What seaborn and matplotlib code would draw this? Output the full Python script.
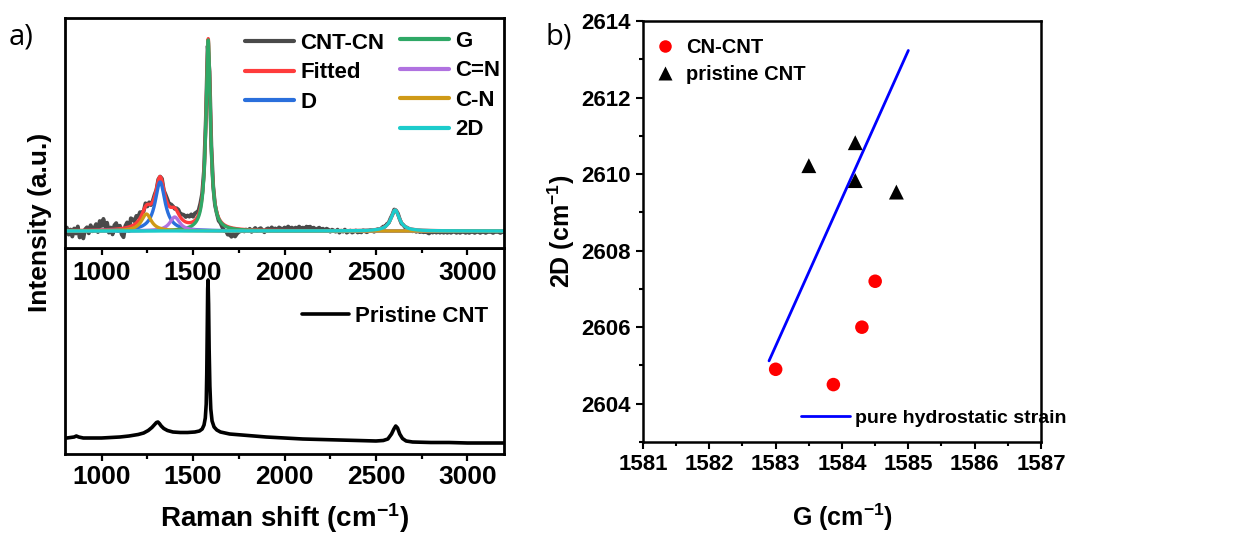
import numpy as np
import pandas as pd
import matplotlib
matplotlib.use("Agg")
import matplotlib.pyplot as plt
import seaborn as sns
from matplotlib.lines import Line2D
from matplotlib.ticker import MultipleLocator, NullLocator
from matplotlib import font_manager as fm

# ---------------- data ----------------
# panel a (top): fitted Lorentzian components of CNT-CN
peak_names = ["D", "G", "C=N", "C-N", "2D"]
peak_centers = [1320, 1583, 1400, 1245, 2605]
peak_heights = [49, 191, 14, 17, 21]
peak_hwhm = [33, 15, 33, 33, 28]
peak_colors = {"D": "#2a6fdc", "G": "#2fa866", "C=N": "#b072e0",
               "C-N": "#cf9a17", "2D": "#1ccccc"}

# measured CNT-CN minus fit (residual noise, every 10 cm-1 from 800)
cn_residual = [
    -2, 3, -4, 1, -6, 2, -3, 4, -7, -2, -8, 1, 3, -3, 5, -1, 2, 6, -2, 9,
    4, 11, 3, 7, -3, 2, -5, 4, 6, -2, 3, -6, -9, 2, 5, -4, 8, 6, 3, 7,
    4, 6, 2, -1, 3, -2, 2, -1, 1, 2, -1, 1, 0, 2, -1, 3, 4, 2, 3, 1,
    -1, 2, 4, 3, 5, 6, 5, 7, 6, 8, 5, 7, 6, 4, 5, 3, 2, 1, 0, 1,
    0, -1, -2, -1, -3, -2, -4, -6, -5, -8, -7, -9, -6, -8, -5, -3, -2, -1, -2, 0,
    -1, 1, -2, 0, 2, -1, 1, 2, 0, -2, 1, 2, 0, 3, 1, 2, 0, 3, 2, 1,
    3, 2, 4, 2, 3, 1, 3, 2, 4, 2, 3, 1, 4, 3, 4, 2, 3, 1, 2, 3,
    1, 2, 0, 2, 1, -1, 1, 0, -1, 1, -2, 0, -1, 1, -2, -1, 0, -2, -1, 0,
    -2, -1, -2, 0, -1, -2, -1, 0, -1, -2, -1, 0, -1, 0, 1, 0, 1, 0, 1, 0,
    1, 0, 1, 0, -1, 0, -1, 0, -2, -1, -2, -1, -2, -1, -2, -1, -2, -1, -2, -3,
    -1, -2, -1, -2, -1, -2, -1, -2, -1, -2, -1, -2, -1, -1, -2, -1, -2, -1, -1, -2,
    -1, -2, -1, -1, -2, -1, -1, -2, -1, -1, -2, -1, -1, -1, -2, -1, -1, -1, -2, -1,
    -1,
]

# panel a (bottom): pristine CNT spectrum
pristine_shift = [810, 830, 850, 862, 875, 900, 950, 1000, 1050, 1100,
                  1150, 1200, 1230, 1255, 1275, 1290, 1300, 1308, 1316, 1326,
                  1340, 1360, 1390, 1430, 1470, 1510, 1535, 1550, 1560, 1567,
                  1572, 1575, 1578, 1580, 1582, 1585, 1588, 1592, 1597, 1604,
                  1615, 1630, 1650, 1700, 1800, 1900, 2000, 2100, 2200, 2300,
                  2400, 2500, 2540, 2565, 2585, 2598, 2608, 2618, 2630, 2645,
                  2665, 2700, 2800, 2900, 3000, 3100, 3200]
pristine_int = [16, 16.5, 17, 18, 17, 16, 16, 16, 16.5, 17,
                18, 19.5, 21, 23.5, 26.5, 29.5, 31.5, 32, 30.5, 28,
                25.5, 23.5, 22, 21.5, 21.5, 22, 23, 25, 29, 36,
                50, 80, 130, 165, 174, 150, 105, 68, 45, 33,
                27, 24, 22, 20, 18.5, 17, 16, 15, 14.5, 14,
                13.5, 13, 13.5, 15, 20, 25, 28, 26, 20, 15.5,
                13, 12, 11.5, 11.5, 11, 11, 11]

# panel b
cn_G = [1583.0, 1583.87, 1584.3, 1584.5]
cn_2D = [2604.9, 2604.5, 2606.0, 2607.2]
pr_G = [1583.5, 1584.2, 1584.2, 1584.82]
pr_2D = [2610.22, 2610.82, 2609.83, 2609.53]
strain_G = [1582.9, 1585.0]
strain_2D = [2605.12, 2613.23]

# ---------------- style ----------------
sns.set_theme(style="white")
names = {f.name for f in fm.fontManager.ttflist}
narrow = "Liberation Sans Narrow" if "Liberation Sans Narrow" in names else "Liberation Sans"
plt.rcParams["font.family"] = ["Liberation Sans", "DejaVu Sans"]
plt.rcParams["font.weight"] = "bold"
plt.rcParams["axes.labelweight"] = "bold"
plt.rcParams["mathtext.default"] = "regular"
plt.rcParams["axes.edgecolor"] = "black"
plt.rcParams["axes.labelcolor"] = "black"
plt.rcParams["xtick.color"] = "black"
plt.rcParams["ytick.color"] = "black"
plt.rcParams["text.color"] = "black"
plt.rcParams["legend.labelcolor"] = "black"

W, H = 1234, 542
fig = plt.figure(figsize=(W / 100, H / 100), dpi=100)


def rect(l, t, r, b):
    return [l / W, 1 - b / H, (r - l) / W, (b - t) / H]


ax_bot = fig.add_axes(rect(65, 248, 504, 454))
ax_top = fig.add_axes(rect(65, 18, 504, 248))
ax_b = fig.add_axes(rect(643, 21, 1041, 442))

# ---------------- panel a top ----------------
x_fit = np.linspace(800, 3200, 2401)
comp = {}
for n, c, h, w in zip(peak_names, peak_centers, peak_heights, peak_hwhm):
    comp[n] = h / (1 + ((x_fit - c) / w) ** 2)
fitted = sum(comp.values())

x_meas = 800 + 10 * np.arange(len(cn_residual))
meas = np.zeros_like(x_meas, dtype=float)
for n, c, h, w in zip(peak_names, peak_centers, peak_heights, peak_hwhm):
    meas += h / (1 + ((x_meas - c) / w) ** 2)
meas += np.array(cn_residual, dtype=float)

lw = 2.4
sns.lineplot(x=x_meas, y=meas, ax=ax_top, color="#4a4a4a", lw=2.8, estimator=None, sort=False)
sns.lineplot(x=x_fit, y=fitted, ax=ax_top, color="#ff3c3c", lw=lw, estimator=None, sort=False)
for n in ["D", "G", "C=N", "C-N", "2D"]:
    sns.lineplot(x=x_fit, y=comp[n], ax=ax_top, color=peak_colors[n], lw=lw,
                 estimator=None, sort=False)

ax_top.set_xlim(800, 3200)
ax_top.set_ylim(-17, 213)
ax_top.yaxis.set_major_locator(NullLocator())
ax_top.xaxis.set_major_locator(MultipleLocator(500))
ax_top.xaxis.set_minor_locator(MultipleLocator(250))
ax_top.tick_params(axis="x", which="both", direction="out", bottom=True, top=False,
                   labelsize=19, pad=4, width=1.6)
ax_top.tick_params(axis="x", which="major", length=5)
ax_top.tick_params(axis="x", which="minor", length=3.5)
ax_top.set_xlabel("")
ax_top.set_ylabel("")
for s in ax_top.spines.values():
    s.set_linewidth(2.0)

leg_kw = dict(frameon=False, fontsize=16, handlelength=2.2, handletextpad=0.3,
              labelspacing=0.38, borderpad=0, borderaxespad=0,
              bbox_transform=fig.transFigure, loc="upper left")
h1 = [Line2D([], [], color="#4a4a4a", lw=3), Line2D([], [], color="#ff3c3c", lw=3),
      Line2D([], [], color=peak_colors["D"], lw=3)]
leg1 = ax_top.legend(h1, ["CNT-CN", "Fitted", "D"],
                     bbox_to_anchor=(245 / W, 1 - 33 / H), **leg_kw)
ax_top.add_artist(leg1)
h2 = [Line2D([], [], color=peak_colors[n], lw=3) for n in ["G", "C=N", "C-N", "2D"]]
ax_top.legend(h2, ["G", "C=N", "C-N", "2D"],
              bbox_to_anchor=(400 / W, 1 - 31 / H), **leg_kw)

# ---------------- panel a bottom ----------------
sns.lineplot(x=pristine_shift, y=pristine_int, ax=ax_bot, color="black", lw=2.6,
             estimator=None, sort=False, label="Pristine CNT")
ax_bot.set_xlim(800, 3200)
ax_bot.set_ylim(0, 206)
ax_bot.yaxis.set_major_locator(NullLocator())
ax_bot.xaxis.set_major_locator(MultipleLocator(500))
ax_bot.xaxis.set_minor_locator(MultipleLocator(250))
ax_bot.tick_params(axis="x", which="both", direction="out", bottom=True, top=False,
                   labelsize=19, pad=3, width=1.6)
ax_bot.tick_params(axis="x", which="major", length=5)
ax_bot.tick_params(axis="x", which="minor", length=3.5)
ax_bot.set_xlabel("Raman shift (cm$^{-1}$)", fontsize=20, labelpad=9)
ax_bot.set_ylabel("")
for s in ax_bot.spines.values():
    s.set_linewidth(2.0)
ax_bot.legend(loc="center left", bbox_to_anchor=(302 / W, 1 - 316 / H),
              bbox_transform=fig.transFigure, frameon=False, fontsize=16,
              handlelength=2.1, handletextpad=0.3, borderpad=0, borderaxespad=0)

fig.text(40 / W, 1 - 222 / H, "Intensity (a.u.)", rotation=90, ha="center", va="center",
         fontsize=19, fontweight="bold")
fig.text(9 / W, 1 - 37 / H, "a)", ha="left", va="center", fontsize=21,
         fontweight="normal", family=["Open Sans", "DejaVu Sans"])

# ---------------- panel b ----------------
sns.lineplot(x=strain_G, y=strain_2D, ax=ax_b, color="#0000ff", lw=2.0, estimator=None,
             sort=False)
sns.scatterplot(x=cn_G, y=cn_2D, ax=ax_b, marker="o", s=95, color="#ff0000",
                edgecolor="none", zorder=3)
sns.scatterplot(x=pr_G, y=pr_2D, ax=ax_b, marker="^", s=115, color="black",
                edgecolor="none", zorder=3)
ax_b.set_xlim(1581, 1587)
ax_b.set_ylim(2603, 2614)
ax_b.xaxis.set_major_locator(MultipleLocator(1))
ax_b.xaxis.set_minor_locator(MultipleLocator(0.5))
ax_b.yaxis.set_major_locator(MultipleLocator(2))
ax_b.yaxis.set_minor_locator(MultipleLocator(1))
ax_b.tick_params(which="both", direction="out", bottom=True, left=True, top=False,
                 right=False, width=1.5, labelsize=16, pad=4)
ax_b.tick_params(which="major", length=5)
ax_b.tick_params(which="minor", length=3)
for lab in ax_b.get_xticklabels() + ax_b.get_yticklabels():
    lab.set_family([narrow, "DejaVu Sans"])
for s in ax_b.spines.values():
    s.set_linewidth(1.8)
ax_b.set_xlabel("G (cm$^{-1}$)", fontsize=18, family=[narrow, "DejaVu Sans"], labelpad=19)
ax_b.set_ylabel("2D (cm$^{-1}$)", fontsize=18, family=[narrow, "DejaVu Sans"], labelpad=3)

hb = [Line2D([], [], marker="o", ls="", color="#ff0000", ms=9, mec="none"),
      Line2D([], [], marker="^", ls="", color="black", ms=10, mec="none")]
legb = ax_b.legend(hb, ["CN-CNT", "pristine CNT"], loc="upper left",
                   bbox_to_anchor=(655 / W, 1 - 38 / H), bbox_transform=fig.transFigure,
                   frameon=False, prop={"family": narrow, "weight": "bold", "size": 14.5},
                   handlelength=1.0, handletextpad=0.55, labelspacing=0.4, borderpad=0,
                   borderaxespad=0)
ax_b.add_artist(legb)
ax_b.legend([Line2D([], [], color="#0000ff", lw=2.0)], ["pure hydrostatic strain"],
            loc="center left", bbox_to_anchor=(801 / W, 1 - 418 / H),
            bbox_transform=fig.transFigure, frameon=False,
            prop={"family": narrow, "weight": "bold", "size": 14},
            handlelength=2.5, handletextpad=0.3, borderpad=0, borderaxespad=0)
fig.text(546 / W, 1 - 37 / H, "b)", ha="left", va="center", fontsize=21,
         fontweight="normal", family=["Open Sans", "DejaVu Sans"])

fig.savefig("out.png", dpi=100)
